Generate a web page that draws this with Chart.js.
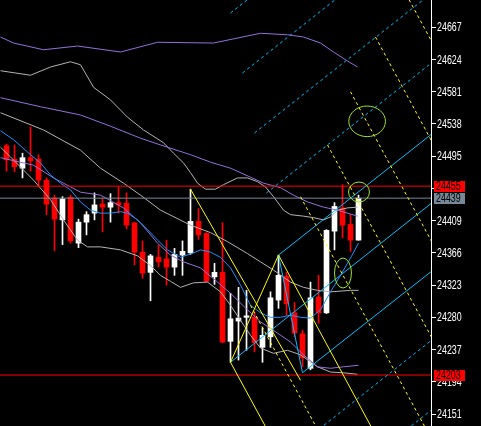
<!DOCTYPE html>
<html>
<head>
<meta charset="utf-8">
<script src="https://cdn.jsdelivr.net/npm/chart.js@4.4.1/dist/chart.umd.min.js"></script>
<style>
  html, body { margin: 0; padding: 0; background: #000; overflow: hidden; }
  #wrap { width: 481px; height: 426px; }
</style>
</head>
<body>
<div id="wrap"><canvas id="chart" width="481" height="426"></canvas></div>
<script>
/* ── DATA ── */
// 캔들 OHLC (45개 봉)
const opens  = [24509,24491,24479,24493,24491,24463,24439,24410,24440,24379,24407,24419,24431,24427,24433,
                24432,24406,24367,24340,24360,24358,24347,24363,24366,24408,24392,24334,24340,24248,24275,
                24280,24280,24240,24254,24303,24335,24286,24258,24212,24307,24286,24395,24426,24404,24383];
const highs  = [24511,24510,24499,24534,24497,24466,24443,24441,24443,24411,24421,24446,24439,24445,24454,
                24446,24407,24382,24364,24376,24383,24372,24382,24451,24425,24393,24352,24406,24312,24320,
                24316,24287,24266,24314,24363,24340,24300,24263,24327,24336,24397,24433,24457,24417,24443];
const lows   = [24475,24474,24466,24475,24454,24417,24369,24377,24379,24373,24390,24410,24394,24407,24419,
                24398,24350,24332,24302,24347,24323,24336,24336,24364,24384,24327,24324,24246,24220,24223,
                24236,24234,24220,24240,24292,24283,24254,24214,24210,24272,24285,24370,24386,24368,24383];
const closes = [24490,24481,24493,24489,24463,24431,24411,24438,24382,24407,24417,24430,24427,24433,24430,
                24403,24367,24339,24362,24354,24347,24364,24368,24408,24390,24328,24340,24247,24278,24279,
                24282,24246,24256,24306,24336,24298,24259,24226,24306,24286,24396,24428,24403,24383,24439];

// 가격축 눈금
const yTicks = [24667,24624,24581,24538,24495,24452,24409,24366,24323,24280,24237,24194,24151];
const priceMin = 24135, priceMax = 24703.4;
const xMin = -0.8125, xMax = 53.0625;

// 수평선
const redLevels = [24455, 24203];
const grayLevel = 24439;

// 인디케이터 라인 [봉 index, 가격]
const purpleUpper = [[-0.75,24654],[0.875,24646],[4.625,24637],[8.875,24642],[14.25,24634],[18.875,24647],
  [25.875,24646],[31.75,24659],[35.125,24657],[37.125,24654],[39.25,24646],[40.875,24634],[42.625,24622],[43.875,24614]];
const purpleMid = [[-0.75,24573],[4.25,24561],[9.25,24550],[13,24535],[16.75,24519],[19.25,24510],[23,24497],
  [25.5,24487],[28,24479],[30.5,24467],[32.125,24459],[34.25,24453],[35.875,24443],[37.625,24434],[39.625,24427],
  [41.375,24423],[43.875,24415]];
const purpleLower = [[-0.75,24493],[3.375,24483],[5.875,24466],[9.25,24447],[11.75,24443],[14.625,24426],
  [16.75,24406],[18.875,24379],[20.5,24363],[22.125,24354],[24.25,24346],[26.375,24327],[28,24312],[30.125,24290],
  [31.75,24274],[33.875,24259],[35.5,24247],[37.125,24230],[38.875,24214],[40.5,24212],[42.125,24214],[44,24216]];
const grayUpper = [[-0.75,24609],[3,24603],[5.5,24614],[8,24621],[9.25,24617],[10.875,24587],[13,24570],
  [15.125,24547],[17.125,24530],[19.625,24513],[20.875,24499],[22.125,24486],[23,24473],[23.875,24459],
  [24.875,24451],[26.125,24451],[27.125,24457],[28.875,24466],[30.125,24466],[31.375,24461],[32.375,24454],
  [33.375,24441],[34.625,24423],[35.5,24417],[37.125,24415],[38.375,24413],[39.625,24410],[40.5,24414],
  [41.375,24423],[42.625,24426],[43.875,24427]];
const grayMid = [[-0.75,24553],[4.625,24530],[9.25,24503],[11.75,24479],[14.625,24459],[16.75,24443],
  [19.25,24423],[23,24403],[25.5,24393],[27.625,24381],[30.125,24365],[31.75,24354],[33.375,24343],
  [35.5,24327],[37.125,24320],[38.875,24316],[40.5,24314],[43,24316],[44,24316]];
const grayLower = [[-0.75,24507],[0.5,24494],[3.375,24463],[5.5,24437],[7.125,24410],[8.875,24383],
  [10.125,24374],[11.75,24374],[14.25,24370],[16.375,24362],[18,24349],[19.25,24336],[20.5,24328],
  [21.75,24320],[23.375,24326],[25.125,24327],[26.75,24314],[28,24296],[29.25,24276],[30.5,24256],
  [31.75,24239],[33.375,24232],[35.125,24236],[36.75,24230],[38.875,24214],[40.5,24207],[42.125,24206],[43.875,24204]];
const blueMa = [[-0.75,24529],[0.875,24517],[3,24497],[4.25,24486],[5.5,24470],[6.75,24459],[8,24450],
  [9.25,24434],[10.5,24423],[11.75,24419],[13,24419],[14.25,24421],[15.125,24419],[16.375,24410],[17.625,24397],
  [18.875,24383],[20.125,24370],[21.75,24360],[23.375,24366],[24.25,24370],[25.5,24367],[26.75,24360],
  [28,24346],[29.25,24323],[30.5,24296],[31.75,24286],[33,24280],[34.25,24280],[35.5,24283],[36.75,24280],
  [38,24279],[39.25,24290],[40.5,24314],[41.75,24336],[43,24359],[44,24379]];

// 작도 오브젝트 (추세선)
const yellowSolid = [
  [[23,24451],[36.75,24196]],
  [[28,24220],[34,24363]],
  [[34,24363],[46.75,24111]],
  [[28,24220],[33,24122]]
];
const yellowDotted = [
  [[46.125,24654],[53.2,24514]],
  [[49.25,24725],[53.2,24647]],
  [[43,24581],[53.2,24380]],
  [[40.125,24510],[53.2,24252]],
  [[36.75,24441],[53.2,24116]],
  [[30.5,24296],[39.25,24123]]
];
const cyanSolid = [
  [[34,24363],[53.2,24525]],
  [[28,24220],[53.2,24433]],
  [[37,24206],[53.2,24342]],
  [[34,24363],[37,24206]]
];
const cyanDotted = [
  [[28,24686],[53.2,24899]],
  [[29.5,24606],[53.2,24806]],
  [[31,24526],[53.2,24713]],
  [[32.5,24446],[53.2,24620]],
  [[38.5,24126],[53.2,24250]],
  [[40,24046],[53.2,24157]]
];
// 타원 [중심 index, 중심 가격, x 반경(봉), y 반경(가격)]
const ellipses = [[45.08,24541.5,2.29,20.4],[44.06,24447.2,1.31,13.3],[42.06,24339.1,1.06,20]];

/* ── COLORS ── */
const C_UP = '#ffffff', C_DN = '#ff0000';
const C_PURPLE = '#9370db', C_GRAY = '#b4b4b4', C_BLUE = '#1e90ff';
const C_YELLOW = '#ffff00', C_CYAN = '#00bfff', C_LIME = '#9be22d';
const FONT = "12px 'Liberation Sans', Arial, sans-serif";

/* ── HELPERS ── */
function lineDs(points, color, dash, order) {
  return {
    type: 'line',
    data: points.map(p => ({ x: p[0], y: p[1] })),
    borderColor: color,
    borderWidth: 1,
    borderDash: dash || [],
    pointRadius: 0,
    fill: false,
    tension: 0,
    order: order
  };
}

// 좁은 폭 라벨 (MT4 비트맵 폰트 흉내)
function narrowText(ctx, text, x, y) {
  ctx.save();
  ctx.translate(x, y);
  ctx.scale(0.74, 1);
  ctx.fillText(text, 0, 0);
  ctx.restore();
}

const overlayPlugin = {
  id: 'overlay',
  afterDatasetsDraw(chart) {
    const { ctx, scales: { x, y } } = chart;
    ctx.save();
    ctx.beginPath();
    ctx.rect(chart.chartArea.left, chart.chartArea.top, chart.chartArea.width, chart.chartArea.height);
    ctx.clip();
    ctx.strokeStyle = C_LIME;
    ctx.lineWidth = 1;
    ellipses.forEach(e => {
      const cx = x.getPixelForValue(e[0]);
      const cy = y.getPixelForValue(e[1]);
      const rx = Math.abs(x.getPixelForValue(e[0] + e[2]) - cx);
      const ry = Math.abs(y.getPixelForValue(e[1] + e[3]) - cy);
      ctx.beginPath();
      ctx.ellipse(cx, cy, rx, ry, 0, 0, Math.PI * 2);
      ctx.stroke();
    });
    ctx.restore();
  },
  afterDraw(chart) {
    const { ctx, scales: { y } } = chart;
    const right = chart.chartArea.right;
    ctx.save();
    ctx.font = FONT;
    ctx.textBaseline = 'middle';
    // 축 라벨
    ctx.fillStyle = '#ffffff';
    yTicks.forEach(v => narrowText(ctx, String(v), right + 6, Math.round(y.getPixelForValue(v)) + 1));
    // 가격 라벨 박스
    const boxes = [[redLevels[0], C_DN], [grayLevel, '#778899'], [redLevels[1], C_DN]];
    boxes.forEach(b => {
      const py = Math.round(y.getPixelForValue(b[0]));
      ctx.fillStyle = b[1];
      ctx.fillRect(right + 3, py - 5, 31, 11);
      ctx.fillStyle = '#000';
      narrowText(ctx, String(b[0]), right + 5, py + 1);
    });
    ctx.restore();
  }
};

/* ── CHART ── */
function renderCandleChart(canvasId) {
  const canvas = document.getElementById(canvasId);
  const idx = opens.map((_, i) => i);
  const bodyData = idx.map(i => ({ x: i, y: [opens[i], closes[i]] }));
  const wickData = idx.map(i => ({ x: i, y: [lows[i], highs[i]] }));
  const colors = idx.map(i => closes[i] > opens[i] ? C_UP : C_DN);

  const datasets = [
    { type: 'bar', data: bodyData, backgroundColor: colors, borderWidth: 0, barThickness: 5, minBarLength: 1, grouped: false, order: 30 },
    { type: 'bar', data: wickData, backgroundColor: colors, borderWidth: 0, barThickness: 1, grouped: false, order: 31 },
    lineDs(purpleUpper, C_PURPLE, null, 20),
    lineDs(purpleMid, C_PURPLE, null, 20),
    lineDs(purpleLower, C_PURPLE, null, 20),
    lineDs(grayUpper, C_GRAY, null, 20),
    lineDs(grayMid, C_GRAY, null, 20),
    lineDs(grayLower, C_GRAY, null, 20),
    lineDs(blueMa, C_BLUE, null, 19),
    lineDs([[xMin, redLevels[0]], [xMax, redLevels[0]]], C_DN, null, 15),
    lineDs([[xMin, redLevels[1]], [xMax, redLevels[1]]], C_DN, null, 15),
    lineDs([[xMin, grayLevel], [xMax, grayLevel]], '#778899', null, 15)
  ];
  yellowSolid.forEach(l => datasets.push(lineDs(l, C_YELLOW, null, 10)));
  yellowDotted.forEach(l => datasets.push(lineDs(l, C_YELLOW, [3, 3], 10)));
  cyanSolid.forEach(l => datasets.push(lineDs(l, C_CYAN, null, 10)));
  cyanDotted.forEach(l => datasets.push(lineDs(l, C_CYAN, [3, 3], 10)));

  return new Chart(canvas, {
    type: 'bar',
    data: { datasets },
    plugins: [overlayPlugin],
    options: {
      responsive: false,
      animation: false,
      layout: { padding: 0 },
      plugins: { legend: { display: false }, tooltip: { enabled: false } },
      scales: {
        x: { type: 'linear', min: xMin, max: xMax, offset: false, display: false },
        y: {
          type: 'linear',
          position: 'right',
          min: priceMin,
          max: priceMax,
          afterBuildTicks: s => { s.ticks = yTicks.map(v => ({ value: v })); },
          afterFit: s => { s.width = 50; s.paddingTop = 0; s.paddingBottom = 0; },
          border: { display: true, color: '#ffffff', width: 1 },
          grid: { drawOnChartArea: false, drawTicks: true, tickLength: 5, color: '#ffffff' },
          ticks: {
            autoSkip: false,
            color: 'rgba(0,0,0,0)',
            padding: 1,
            font: { size: 11 },
            callback: v => String(v)
          }
        }
      }
    }
  });
}

renderCandleChart('chart');
</script>
</body>
</html>
